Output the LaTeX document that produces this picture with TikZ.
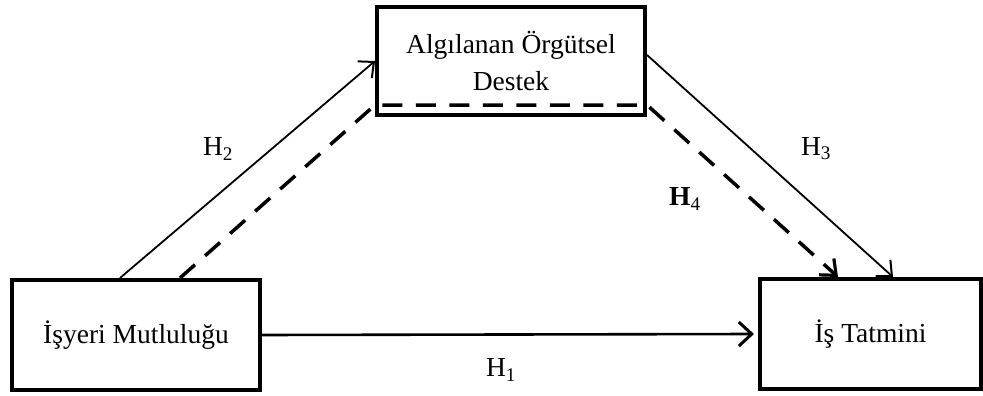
\documentclass[tikz,border=0pt]{standalone}
\usepackage{fontspec}
\setmainfont{Liberation Serif}
\usetikzlibrary{arrows.meta}

\tikzset{
  box/.style={draw, line width=4pt, inner sep=0pt, align=center,
              font=\fontsize{27.5}{37}\selectfont},
  link/.style={line width=1.8pt, -{Straight Barb[length=12pt,width=22pt,line width=2pt]}},
  mainlink/.style={line width=2.6pt, -{Straight Barb[length=13pt,width=24pt,line width=3pt]}},
  medlink/.style={line width=3.5pt, dash pattern=on 20pt off 13.5pt,
                  -{Straight Barb[length=13pt,width=22pt,line width=3.2pt]}},
  hlabel/.style={font=\fontsize{27.5}{33}\selectfont, inner sep=0pt}
}

\begin{document}
\begin{tikzpicture}[x=1pt, y=-1pt]
  \useasboundingbox (0,0) rectangle (983,396);

  % the three constructs
  \node[box, minimum width=268pt, minimum height=108pt] (ags) at (511,61)
    {Algılanan Örgütsel\\Destek};
  \node[box, minimum width=248pt, minimum height=110pt] (im) at (136,335)
    {İşyeri Mutluluğu};
  \node[box, minimum width=221pt, minimum height=110pt] (it) at (870.5,334)
    {İş Tatmini};

  % anchor points for the paths
  \coordinate (dl) at ([yshift=12pt]ags.south west);
  \coordinate (dr) at ([yshift=12pt]ags.south east);

  % direct effects
  \draw[mainlink] (im.east) -- ([xshift=-4pt]it.west);
  \draw[link] ([xshift=-16pt]im.north) -- (ags.west);
  \draw[link] ([yshift=6pt]ags.east) -- ([xshift=22.5pt]it.north);

  % mediated (indirect) path
  \draw[medlink] ([xshift=44pt]im.north) -- (dl) -- (dr) -- ([xshift=-32.5pt]it.north);

  % hypothesis labels
  \node[hlabel] (h1) at (501,370) {H\textsubscript{1}};
  \node[hlabel] (h2) at (218,149) {H\textsubscript{2}};
  \node[hlabel] (h3) at (816,149) {H\textsubscript{3}};
  \node[hlabel] (h4) at (685,199) {\textbf{H}\textsubscript{4}};
\end{tikzpicture}
\end{document}
